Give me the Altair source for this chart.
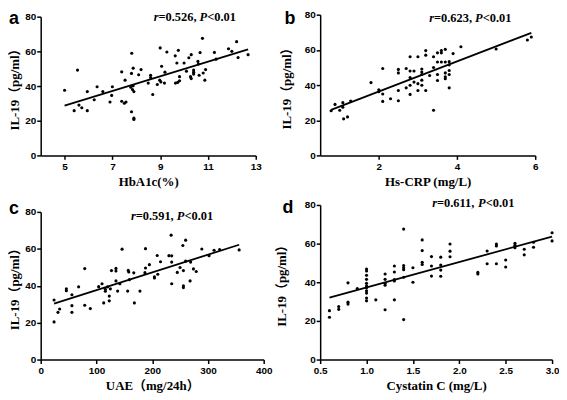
import altair as alt
import pandas as pd

# ---------------- data ----------------
a_x = [5.0, 5.4, 5.54, 5.6, 5.72, 5.95, 5.95, 6.24, 6.36, 6.6, 6.9, 6.97, 7.0, 7.39, 7.39,
       7.5, 7.57, 7.53, 7.81, 7.8, 7.87, 7.77, 7.84, 7.9, 7.87, 7.8, 7.9, 7.9, 8.1, 8.2,
       8.5, 8.6, 8.6, 8.69, 8.88, 8.98, 9.0, 9.03, 9.06, 9.2, 9.18, 9.28, 9.63, 9.64, 9.7,
       9.73, 9.76, 9.81, 9.81, 10.0, 10.1, 10.2, 10.3, 10.27, 10.3, 10.4, 10.4, 10.4, 10.58, 10.6,
       10.63, 10.67, 10.77, 10.8, 10.87, 10.9, 11.27, 11.34, 11.86, 12.0, 12.2, 12.26, 12.68]
a_y = [37.6, 25.8, 49.2, 29.0, 27.5, 36.8, 25.8, 32.1, 39.6, 36.8, 30.8, 34.6, 39.6, 48.2, 31.2,
       30.1, 30.8, 43.4, 58.9, 47.3, 50.3, 39.3, 38.0, 36.8, 40.2, 25.2, 21.5, 20.7, 46.5, 49.5,
       41.7, 46.2, 44.9, 35.1, 40.9, 43.4, 62.0, 42.4, 51.4, 48.0, 41.7, 59.6, 57.4, 41.7, 53.3,
       42.1, 60.6, 45.4, 43.0, 53.3, 48.6, 56.3, 58.1, 45.4, 44.3, 49.2, 48.0, 46.9, 54.2, 52.7,
       46.2, 59.3, 67.5, 47.5, 43.4, 49.5, 59.4, 55.5, 61.5, 60.0, 65.6, 56.4, 58.1]

b_x = [0.78, 0.88, 1.0, 1.08, 1.08, 1.1, 1.2, 1.28, 1.8, 2.0, 2.0, 2.1, 2.1, 2.1, 2.3,
       2.5, 2.5, 2.5, 2.5, 2.7, 2.7, 2.8, 2.8, 2.8, 2.8, 2.8, 2.9, 2.9, 3.0, 3.0,
       3.0, 3.1, 3.1, 3.1, 3.1, 3.1, 3.2, 3.2, 3.2, 3.3, 3.4, 3.4, 3.4, 3.5, 3.5,
       3.5, 3.5, 3.6, 3.6, 3.6, 3.7, 3.7, 3.7, 3.7, 3.7, 3.8, 3.8, 3.8, 3.8, 3.8,
       3.9, 4.1, 5.0, 5.8, 5.9]
b_y = [25.4, 29.0, 25.7, 30.0, 27.4, 20.8, 21.9, 30.9, 41.4, 37.3, 36.2, 49.4, 34.9, 30.7, 32.2,
       48.9, 46.9, 36.9, 31.1, 49.4, 38.4, 56.1, 48.0, 44.3, 39.9, 34.7, 48.0, 41.7, 56.1, 40.8,
       36.9, 49.1, 47.4, 46.0, 42.8, 39.9, 59.6, 57.0, 36.9, 45.4, 56.1, 50.0, 25.7, 58.3, 53.1,
       46.0, 42.6, 59.6, 53.1, 58.3, 53.1, 60.3, 46.9, 44.7, 43.6, 53.3, 51.5, 48.3, 46.0, 38.4,
       57.9, 61.8, 60.5, 65.6, 67.3]

c_x = [24, 24, 31, 34, 46, 46, 56, 56, 56, 68, 79, 79, 89, 104, 110,
       113, 116, 116, 120, 123, 123, 125, 127, 135, 135, 135, 138, 142, 146, 156,
       157, 158, 159, 167, 168, 178, 187, 188, 188, 195, 204, 204, 209, 210, 215,
       230, 234, 235, 235, 235, 245, 250, 255, 256, 256, 256, 260, 260, 268, 269,
       274, 279, 289, 302, 311, 321, 356]
c_y = [32.3, 20.4, 25.6, 27.4, 37.3, 38.3, 35.1, 29.2, 25.6, 39.4, 49.3, 29.4, 27.6, 39.5, 41.1,
       30.7, 38.1, 37.0, 39.4, 34.4, 31.8, 38.3, 48.2, 49.4, 48.0, 42.6, 37.1, 41.1, 59.8, 37.1,
       48.3, 47.5, 43.3, 47.0, 30.7, 37.1, 47.1, 49.6, 60.1, 51.4, 44.8, 44.2, 56.4, 46.2, 53.0,
       56.3, 67.4, 56.2, 52.8, 41.1, 47.2, 49.9, 61.8, 48.2, 40.0, 39.0, 53.3, 64.7, 42.6, 52.8,
       49.1, 47.7, 59.9, 56.3, 59.2, 59.6, 59.4]

d_x = [0.6, 0.6, 0.7, 0.7, 0.8, 0.8, 0.8, 0.9,
       1.0, 1.0, 1.0, 1.0, 1.0, 1.0, 1.0, 1.0, 1.0, 1.0, 1.0,
       1.1,
       1.2, 1.2, 1.2, 1.2, 1.2,
       1.3, 1.3, 1.3, 1.3, 1.3,
       1.4, 1.4, 1.4, 1.4, 1.4, 1.4,
       1.5, 1.5,
       1.6, 1.6, 1.6, 1.6,
       1.7, 1.7, 1.7,
       1.8, 1.8, 1.8, 1.8,
       1.9, 1.9, 1.9,
       2.2, 2.2, 2.3, 2.3, 2.4, 2.4, 2.4, 2.5, 2.5,
       2.6, 2.6, 2.6, 2.7, 2.7, 2.8, 2.8, 3.0, 3.0]
d_y = [25.3, 21.9, 27.4, 26.0, 39.7, 29.7, 28.7, 36.8,
       46.8, 45.8, 43.6, 41.5, 39.5, 38.1, 37.1, 35.6, 34.4, 31.8, 30.4,
       30.9,
       44.3, 41.5, 39.5, 38.5, 25.8,
       48.4, 45.3, 41.4, 40.7, 30.9,
       67.5, 48.7, 47.5, 46.5, 42.6, 20.7,
       47.5, 40.0,
       61.9, 56.4, 50.3, 49.2,
       53.3, 48.4, 43.2,
       53.0, 48.9, 46.3, 43.1,
       59.8, 56.1, 53.2,
       45.1, 44.3, 56.2, 49.6, 59.8, 58.8, 49.6, 51.5, 47.9,
       60.2, 59.1, 57.9, 57.1, 54.2, 60.7, 58.1, 65.6, 61.4]

letters = ["a", "b", "c", "d"]
r_values = ["0.526", "0.623", "0.591", "0.611"]
x_titles = ["HbA1c(%)", "Hs-CRP (mg/L)", "UAE\uff08mg/24h\uff09", "Cystatin C (mg/L)"]
y_title = "IL-19\uff08pg/ml\uff09"
x_domains = [[4, 13], [0.5, 6], [0, 400], [0.5, 3.0]]
x_ticks = [[5, 7, 9, 11, 13], [2, 4, 6], [0, 100, 200, 300, 400], [0.5, 1.0, 1.5, 2.0, 2.5, 3.0]]
x_formats = ["d", "d", "d", ".1f"]
y_ticks = [0, 20, 40, 60, 80]

# ---------------- styling / layout ----------------
SERIF = "Liberation Serif, Noto Sans CJK SC"
SANS = "Liberation Sans, Arial"
FS_ANN = 12.5
BOLD_W = {"=": 570, "0": 500, "1": 500, "2": 500, "3": 500, "4": 500, "5": 500, "6": 500,
          "7": 500, "8": 500, "9": 500, ".": 250, ",": 250, " ": 250, "<": 570}
BI_W = {"r": 389, "P": 611}

COL_W = [225, 234]     # grid column widths
ROW_H = [142, 156]     # grid row heights
# per panel: x range end, y range top, y-title padding, letter and annotation positions
panel_cfg = [
    dict(col=0, row=0, xr=217, yt=2, tpad=3, letter=(-32, 9), ann=(114, 6.5)),
    dict(col=1, row=0, xr=217, yt=0, tpad=11, letter=(-36, 9), ann=(110, 7)),
    dict(col=0, row=1, xr=225, yt=7, tpad=3, letter=(-32, 9), ann=(91, 15)),
    dict(col=1, row=1, xr=234, yt=0, tpad=16, letter=(-38, 8), ann=(113, 2)),
]

one = pd.DataFrame({"k": [0]})


def text_layer(txt, x, y, italic, size=FS_ANN, font=SERIF):
    return alt.Chart(one).mark_text(
        text=txt, align="left", baseline="alphabetic", font=font, fontSize=size,
        fontWeight="bold", fontStyle="italic" if italic else "normal", color="black"
    ).encode(x=alt.value(x), y=alt.value(y))


def panel(i, xs, ys):
    cfg = panel_cfg[i]
    w = COL_W[cfg["col"]]
    h = ROW_H[cfg["row"]]
    df = pd.DataFrame({"x": xs, "y": ys})
    xenc = alt.X("x:Q", scale=alt.Scale(domain=x_domains[i], nice=False, zero=False,
                                        range=[0, cfg["xr"]]),
                 axis=alt.Axis(values=x_ticks[i], format=x_formats[i], title=x_titles[i],
                               labelFlush=False, labelOverlap=False, labelPadding=2,
                               titlePadding=4, labelAngle=0))
    yenc = alt.Y("y:Q", scale=alt.Scale(domain=[0, 80], nice=False, range=[h, cfg["yt"]]),
                 axis=alt.Axis(values=y_ticks, title=y_title, labelPadding=1,
                               labelOverlap=False, labelFlush=False,
                               titlePadding=cfg["tpad"]))
    pts = alt.Chart(df).mark_circle(size=10, color="black", opacity=1).encode(x=xenc, y=yenc)
    fit = alt.Chart(df).transform_regression("x", "y").mark_line(
        color="black", strokeWidth=1.8).encode(x=xenc, y=yenc)

    layers = [pts, fit]
    ax, ay = cfg["ann"]
    pieces = [("r", True), ("=" + r_values[i] + ", ", False), ("P", True), ("<0.01", False)]
    x = ax
    for txt, it in pieces:
        layers.append(text_layer(txt, x, ay, it))
        table = BI_W if it else BOLD_W
        x += sum(table[c] for c in txt) * FS_ANN / 1000
    lx, ly = cfg["letter"]
    layers.append(text_layer(letters[i], lx, ly, False, size=18, font=SANS))
    if i == 0:
        # invisible marker fixing the top-left corner of the whole figure
        layers.append(alt.Chart(one).mark_rule(opacity=0).encode(
            x=alt.value(-32), x2=alt.value(0), y=alt.value(-5)))
    return alt.layer(*layers).properties(width=w, height=h)


panels = [panel(0, a_x, a_y), panel(1, b_x, b_y), panel(2, c_x, c_y), panel(3, d_x, d_y)]

chart = alt.concat(
    *panels, columns=2, bounds="flush",
    spacing=alt.RowColnumber(row=50, column=57)
).properties(padding=0).configure_view(
    strokeWidth=0
).configure_axis(
    grid=False, domainColor="black", domainWidth=1.5, tickColor="black", tickWidth=1.5,
    tickSize=4, labelFont=SANS, labelFontWeight="bold", labelFontSize=10, labelColor="black",
    titleFont=SERIF, titleFontWeight="bold", titleFontSize=13, titleColor="black",
    labelOverlap=False
)

chart.save("out.html", embed_options={"renderer": "svg", "actions": False})
